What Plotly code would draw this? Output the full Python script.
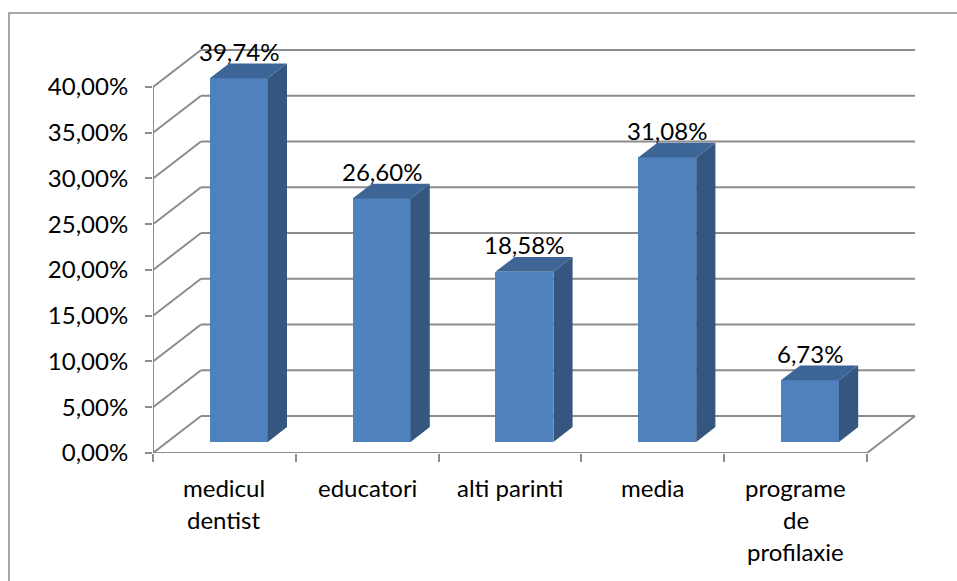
import plotly.graph_objects as go

# Sources of information about oral hygiene (share of respondents, %)
categories = ["medicul dentist", "educatori", "alti parinti", "media", "programe de profilaxie"]
label_lines = [["medicul", "dentist"], ["educatori"], ["alti parinti"], ["media"], ["programe", "de", "profilaxie"]]
values = [39.74, 26.60, 18.58, 31.08, 6.73]
value_labels = ["39,74%", "26,60%", "18,58%", "31,08%", "6,73%"]
y_ticks = [0, 5, 10, 15, 20, 25, 30, 35, 40]
y_tick_text = ["0,00%", "5,00%", "10,00%", "15,00%", "20,00%", "25,00%", "30,00%", "35,00%", "40,00%"]

# Oblique projection of the depth axis (in axis units)
DX = 0.336      # depth shift along x, category units
DY = 4.04       # depth shift along y, percent units
TF, TB = 0.30, 0.70   # front / back depth of the columns
HW = 0.203      # half width of a column

FRONT = "#4F81BD"
SIDE = "#34567F"
TOP = "#3D6696"
GRID = "#8C8C8C"
FONT = "Lato"
FS = 24

fig = go.Figure()

# front faces as real bars
xs = [i + TF * DX for i in range(len(values))]
fig.add_trace(go.Bar(x=xs, y=values, base=TF * DY, width=2 * HW,
                     marker=dict(color=FRONT, line=dict(width=0)),
                     hoverinfo="skip", showlegend=False))

# side and top faces
side_x, side_y, top_x, top_y = [], [], [], []
for i, v in enumerate(values):
    xf0, xf1 = i - HW + TF * DX, i + HW + TF * DX
    xb0, xb1 = i - HW + TB * DX, i + HW + TB * DX
    yb, ybb = TF * DY, TB * DY
    yt, ybt = v + TF * DY, v + TB * DY
    side_x += [xf1, xb1, xb1, xf1, xf1, None]
    side_y += [yb, ybb, ybt, yt, yb, None]
    top_x += [xf0, xf1, xb1, xb0, xf0, None]
    top_y += [yt, yt, ybt, ybt, yt, None]

fig.add_trace(go.Scatter(x=side_x, y=side_y, mode="lines", fill="toself",
                         fillcolor=SIDE, line=dict(width=0), hoverinfo="skip",
                         showlegend=False))
fig.add_trace(go.Scatter(x=top_x, y=top_y, mode="lines", fill="toself",
                         fillcolor=TOP, line=dict(width=0), hoverinfo="skip",
                         showlegend=False))

# walls and floor
shapes = []
x_left, x_right = -0.5, len(values) - 0.5
for k in y_ticks:
    shapes.append(dict(type="line", xref="x", yref="y", x0=x_left + DX, x1=x_right + DX,
                       y0=k + DY, y1=k + DY, line=dict(color=GRID, width=2), layer="below"))
    shapes.append(dict(type="line", xref="x", yref="y", x0=x_left, x1=x_left + DX,
                       y0=k, y1=k + DY, line=dict(color=GRID, width=2), layer="below"))
shapes.append(dict(type="line", xref="x", yref="y", x0=x_right, x1=x_right + DX,
                   y0=0, y1=DY, line=dict(color=GRID, width=2), layer="below"))
shapes.append(dict(type="line", xref="x", yref="y", x0=x_left, x1=x_right,
                   y0=0, y1=0, line=dict(color=GRID, width=2), layer="below"))
shapes.append(dict(type="line", xref="x", yref="y", x0=x_left, x1=x_left,
                   y0=0, y1=y_ticks[-1], line=dict(color=GRID, width=2), layer="below"))

# chart area border
W, H = 957, 581
ML, MR, MT, MB = 153, 40, 32, 128
pw, ph = W - ML - MR, H - MT - MB
shapes.append(dict(type="rect", xref="paper", yref="paper",
                   x0=(9 - ML) / pw, x1=(W + 5 - ML) / pw,
                   y0=(H - MB - (H + 5)) / ph, y1=(H - MB - 13) / ph,
                   line=dict(color=GRID, width=1.5), fillcolor="rgba(0,0,0,0)", layer="below"))

annotations = []
for i, (v, lab) in enumerate(zip(values, value_labels)):
    annotations.append(dict(x=i + TF * DX, y=v + TF * DY, xref="x", yref="y", text=lab,
                            showarrow=False, yanchor="middle", yshift=27,
                            font=dict(family=FONT, size=FS, color="#000000")))
for i, lines in enumerate(label_lines):
    for j, line in enumerate(lines):
        annotations.append(dict(x=i, y=0, xref="x", yref="y", text=line, showarrow=False,
                                yanchor="middle", yshift=-(34 + 32 * j),
                                font=dict(family=FONT, size=FS, color="#000000")))

fig.update_layout(
    width=W, height=H,
    margin=dict(l=ML, r=MR, t=MT, b=MB),
    paper_bgcolor="white", plot_bgcolor="white",
    shapes=shapes, annotations=annotations,
    bargap=0,
    xaxis=dict(range=[x_left, x_right + 0.35], showgrid=False, zeroline=False,
               showline=False, tickvals=list(range(len(values))), ticktext=[""] * len(values),
               ticks="outside", ticklen=0, tickcolor=GRID,
               minor=dict(tickvals=[x_left + i for i in range(len(values) + 1)],
                          ticks="outside", ticklen=8, tickwidth=2, tickcolor=GRID,
                          showgrid=False)),
    yaxis=dict(range=[0, 46], showgrid=False, zeroline=False, showline=False,
               tickvals=y_ticks, ticktext=y_tick_text,
               ticks="outside", ticklen=7, tickwidth=2, tickcolor=GRID,
               ticklabelstandoff=12,
               tickfont=dict(family=FONT, size=FS, color="#000000")),
)

fig.write_html("out.html")
